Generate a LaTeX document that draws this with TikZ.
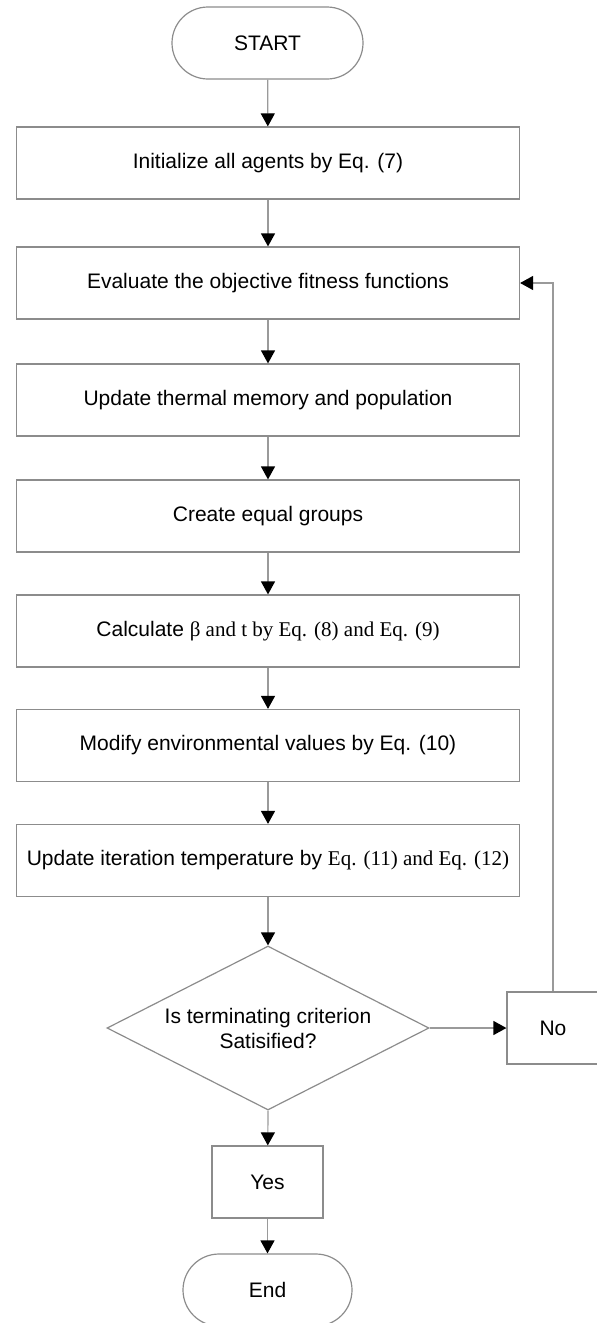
\documentclass[tikz,border=0pt]{standalone}
\usepackage{fontspec}
\setmainfont{Liberation Sans}
\newfontfamily\tnr{Liberation Serif}
\usetikzlibrary{arrows.meta,shapes.geometric}
\definecolor{edgegray}{HTML}{8C8C8C}
\definecolor{linegray}{HTML}{9A9A9A}

\begin{document}
\begin{tikzpicture}[x=1pt,y=-1pt,
  every node/.style={font=\fontsize{21}{25}\selectfont, inner sep=0pt},
  proc/.style={draw=edgegray, line width=1.2pt, minimum width=503pt, minimum height=72pt},
  term/.style={draw=edgegray, line width=1.2pt, rounded corners=36pt, minimum height=72pt},
  smallbox/.style={draw=edgegray, line width=1.2pt, minimum height=72pt},
  decision/.style={draw=edgegray, line width=1.2pt, diamond, aspect=1.96,
                   minimum width=322pt, minimum height=164pt},
  conn/.style={draw=linegray, line width=1.2pt,
               -{Triangle[width=14pt,length=13pt,color=black,fill=black]}}
]
\useasboundingbox (0,0) rectangle (597,1323);

% main column
\node[term, minimum width=191pt] (start) at (267.5,43) {START};
\node[proc] (init)    at (268,163)   {Initialize all agents by Eq. (7)};
\node[proc] (eval)    at (268,283)   {Evaluate the objective fitness functions};
\node[proc] (thermal) at (268,400)   {Update thermal memory and population};
\node[proc] (groups)  at (268,516)   {Create equal groups};
\node[proc] (calc)    at (268,631)   {Calculate {\tnr β and t by Eq. (8) and Eq. (9)}};
\node[proc] (modify)  at (268,745.5) {Modify environmental values by Eq. (10)};
\node[proc] (iter)    at (268,860.5) {Update iteration temperature by {\tnr Eq. (11) and Eq. (12)}};

% decision and its two outcomes
\node[decision] (dec) at (268,1028) {};
\node[align=center] (dectext) at (268,1028) {Is terminating criterion\\Satisified?};
\node[smallbox, minimum width=92pt] (no)  at (553,1028) {No};
\node[smallbox, minimum width=111pt] (yes) at (267.5,1182) {Yes};
\node[term, minimum width=169pt] (end) at (267.5,1290) {End};

% connectors
\draw[conn] (start) -- (init);
\draw[conn] (init) -- (eval);
\draw[conn] (eval) -- (thermal);
\draw[conn] (thermal) -- (groups);
\draw[conn] (groups) -- (calc);
\draw[conn] (calc) -- (modify);
\draw[conn] (modify) -- (iter);
\draw[conn] (iter) -- (dec.north);
\draw[conn] (dec.east) -- (no.west);
\draw[conn] (dec.south) -- (yes);
\draw[conn] (yes) -- (end);
\draw[conn] (no.north) |- (eval.east);
\end{tikzpicture}
\end{document}
